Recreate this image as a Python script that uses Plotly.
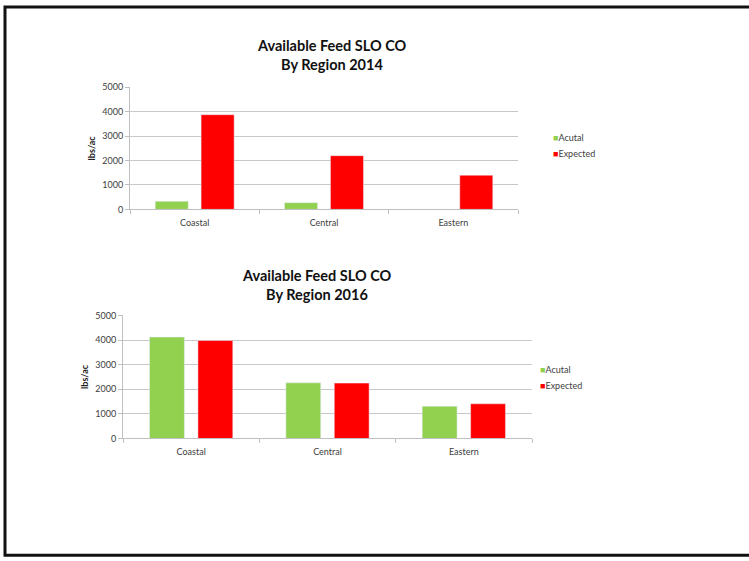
import plotly.graph_objects as go

categories = ["Coastal", "Central", "Eastern"]
actual_2014 = [330, 275, 0]
expected_2014 = [3880, 2200, 1400]
actual_2016 = [4120, 2260, 1310]
expected_2016 = [3980, 2250, 1410]
y_ticks = [0, 1000, 2000, 3000, 4000, 5000]
series_names = ["Acutal", "Expected"]
title_lines = [["Available Feed SLO CO", "By Region 2014"], ["Available Feed SLO CO", "By Region 2016"]]

GREEN = "#92D050"
RED = "#FF0000"
W, H = 749, 561
FONT = "Lato, Open Sans, Liberation Sans, sans-serif"

fig = go.Figure()

fig.add_trace(go.Bar(x=categories, y=actual_2014, name=series_names[0], marker_color=GREEN,
                     xaxis="x", yaxis="y", showlegend=False))
fig.add_trace(go.Bar(x=categories, y=expected_2014, name=series_names[1], marker_color=RED,
                     xaxis="x", yaxis="y", showlegend=False))
fig.add_trace(go.Bar(x=categories, y=actual_2016, name=series_names[0], marker_color=GREEN,
                     xaxis="x2", yaxis="y2", showlegend=False))
fig.add_trace(go.Bar(x=categories, y=expected_2016, name=series_names[1], marker_color=RED,
                     xaxis="x2", yaxis="y2", showlegend=False))


def px_x(v):
    return v / W


def px_y(v):
    # compensate for observed vertical offset/scale of the photographed page
    v_in = (v - 5.7) / 0.98
    return 1 - v_in / H


tick_font = dict(family=FONT, size=9, color="#404040")

xcommon = dict(type="category", showgrid=False, showline=True, linecolor="#BFBFBF", linewidth=1,
               ticks="outside", tickson="boundaries", ticklen=4, tickcolor="#BFBFBF",
               tickfont=tick_font, fixedrange=True, ticklabelstandoff=5)
ycommon = dict(range=[0, 5000], tickvals=y_ticks, showgrid=True, gridcolor="#C8C8C8", gridwidth=1,
               showline=True, linecolor="#BFBFBF", ticks="outside", ticklen=4, tickcolor="#BFBFBF",
               tickfont=tick_font, zeroline=False, fixedrange=True,
               title=dict(text="<b>lbs/ac</b>", font=dict(family=FONT, size=9, color="#222"),
                          standoff=5))

fig.update_layout(
    width=W, height=H,
    margin=dict(l=0, r=0, t=0, b=0),
    paper_bgcolor="white", plot_bgcolor="white",
    barmode="group", bargap=0.29, bargroupgap=0.28,
    showlegend=False,
    xaxis=dict(domain=[px_x(130), px_x(518)], anchor="y", **xcommon),
    yaxis=dict(domain=[px_y(209), px_y(87)], anchor="x", **ycommon),
    xaxis2=dict(domain=[px_x(123), px_x(532)], anchor="y2", **xcommon),
    yaxis2=dict(domain=[px_y(438), px_y(315)], anchor="x2", **ycommon),
    shapes=[dict(type="rect", xref="paper", yref="paper", x0=px_x(5), x1=px_x(770),
                 y0=0.0015, y1=1 - 1.0 / H, line=dict(color="#111", width=3))],
)

title_font = dict(family=FONT, size=14.5, color="#111")
title_pos = [(332, [45.5, 64.5]), (317, [275, 294])]
for (tx, tys), lines in zip(title_pos, title_lines):
    for line, ty in zip(lines, tys):
        fig.add_annotation(text="<b>" + line + "</b>", x=px_x(tx), y=px_y(ty), xref="paper", yref="paper",
                           showarrow=False, font=title_font, xanchor="center", yanchor="middle")

# legends (one per chart)
legend_font = dict(family=FONT, size=9, color="#404040")
colors = [GREEN, RED]
legend_pos = [(551, [137, 153]), (538, [369, 385])]
for lx, ys in legend_pos:
    for name, col, ly in zip(series_names, colors, ys):
        fig.add_annotation(text='<span style="color:%s">■</span>%s' % (col, name),
                           x=px_x(lx), y=px_y(ly), xref="paper", yref="paper", showarrow=False,
                           font=legend_font, xanchor="left", yanchor="middle")

fig.write_html(
    "out.html",
    config={"displayModeBar": False, "staticPlot": True},
    post_script=("document.body.style.margin='0';document.body.style.overflow='hidden';"
                 "var d=document.getElementById('{plot_id}');d.style.position='fixed';"
                 "d.style.left='0px';d.style.top='0px';"),
)
